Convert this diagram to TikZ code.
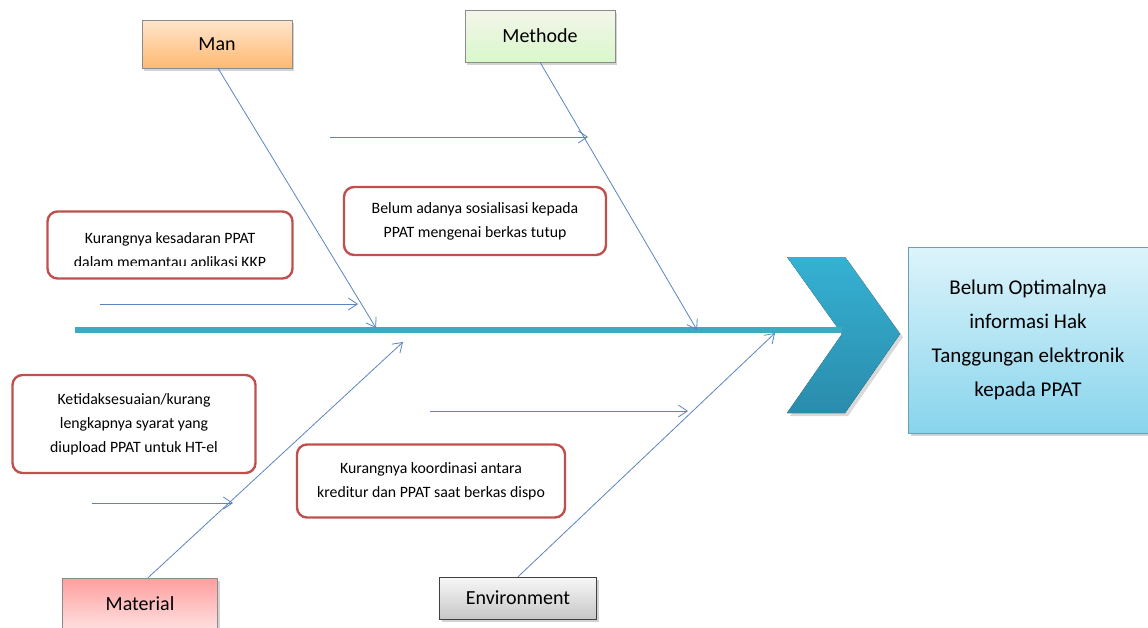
\documentclass[tikz,border=0pt]{standalone}
\usepackage{fontspec}
\setmainfont{Carlito}
\usepackage{tikz}
\usetikzlibrary{shadows}
\usetikzlibrary{arrows.meta}
\usetikzlibrary{positioning}

\definecolor{bonec}{HTML}{5B84BF}
\definecolor{spinec}{HTML}{3AABC0}
\definecolor{causec}{HTML}{C0504D}
\definecolor{headtop}{HTML}{36B1D3}
\definecolor{headbot}{HTML}{2A8CAC}
\definecolor{effecttop}{HTML}{DDF4FB}
\definecolor{effectbot}{HTML}{88D4EC}
\definecolor{effectline}{HTML}{6A9FB8}

\begin{document}
\begin{tikzpicture}[x=1pt, y=-1pt,
        category/.style={rectangle, draw=black!45, thin, minimum width=150pt, minimum height=48pt, font=\fontsize{20}{24}\selectfont, drop shadow={opacity=0.35, shadow xshift=2pt, shadow yshift=-3pt}},
        cause/.style={rectangle, rounded corners=10pt, draw=causec, fill=white, line width=2.4pt, align=center, font=\fontsize{15.8}{24}\selectfont},
        bone/.style={draw=bonec, line width=0.8pt, -{Straight Barb[length=9pt, width=12pt]}},
        effect/.style={rectangle, draw=effectline, thin, minimum width=240pt, minimum height=186pt, align=center, font=\fontsize{21}{34}\selectfont, top color=effecttop, bottom color=effectbot, drop shadow={opacity=0.35, shadow xshift=3pt, shadow yshift=-3pt}}
      ]
        \useasboundingbox (0,0) rectangle (1148,627);

        % head of the fish
        \node[effect] (effect) at (1028,340) {Belum Optimalnya\\informasi Hak\\Tanggungan elektronik\\kepada PPAT};
        \fill[top color=headtop, bottom color=headbot, drop shadow={opacity=0.3, shadow xshift=3pt, shadow yshift=-3pt}]
            (787,257) -- (845,257) -- (900,334) -- (845,413) -- (787,413) -- (842,334) -- cycle;

        % spine
        \coordinate (tail) at (75,330);
        \coordinate (head) at (842,330);
        \draw[spinec, line width=5.5pt] (tail) -- (head);

        % categories
        \node[category, top color=orange!20, bottom color=orange!55] (man)     at (217,44)  {Man};
        \node[category, top color=green!4!olive!8, bottom color=olive!30!green!18, minimum height=52pt] (methode) at (540,36)  {Methode};
        \node[category, top color=red!30!pink!80, bottom color=red!12, minimum height=52pt, minimum width=155pt] (material) at (140,604) {Material};
        \node[category, draw=black!75, top color=black!3, bottom color=black!22, minimum width=157pt, minimum height=42pt] (environment) at (518,598) {Environment};

        \coordinate (manend)  at (376,328);
        \coordinate (metend)  at (697,330);
        \coordinate (matend)  at (403,342);
        \coordinate (envend)  at (775,333);

        \draw[bone] ([xshift=1pt]man.south) -- (manend);
        \draw[bone] (methode.south) -- (metend);
        \draw[bone] ([xshift=8pt]material.north) -- (matend);
        \draw[bone] (environment.north) -- (envend);

        % causes
        \node[cause, minimum width=245pt, minimum height=67pt] (kkp) at (170,245) {};
        \begin{scope}
          \clip ([xshift=2pt, yshift=-2pt]kkp.north west) rectangle ([xshift=-2pt, yshift=14pt]kkp.south east);
          \node[align=center, font=\fontsize{15.8}{24}\selectfont] (kkptext) at (170,251) {Kurangnya kesadaran PPAT\\dalam memantau aplikasi KKP};
        \end{scope}
        \node[cause, minimum width=262pt, minimum height=68pt] (tutup) at (475,221) {Belum adanya sosialisasi kepada\\PPAT mengenai berkas tutup};
        \node[cause, minimum width=243pt, minimum height=98pt] (syarat) at (134,424) {Ketidaksesuaian/kurang\\lengkapnya syarat yang\\diupload PPAT untuk HT-el};
        \node[cause, minimum width=268pt, minimum height=73pt] (dispo) at (431,481) {Kurangnya koordinasi antara\\kreditur dan PPAT saat berkas dispo};

        % sub-cause arrows
        \coordinate (kkpa) at (100,304);   \coordinate (kkpb) at (358,304);
        \coordinate (tutupa) at (330,137); \coordinate (tutupb) at (588,137);
        \coordinate (syarata) at (92,503); \coordinate (syaratb) at (233,503);
        \coordinate (dispoa) at (430,411); \coordinate (dispob) at (688,411);
        \draw[bone] (kkpa) -- (kkpb);
        \draw[bone] (tutupa) -- (tutupb);
        \draw[bone] (syarata) -- (syaratb);
        \draw[bone] (dispoa) -- (dispob);
      \end{tikzpicture}
\end{document}
